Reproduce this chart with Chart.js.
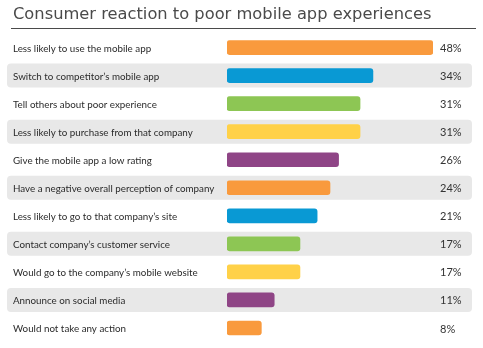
<!DOCTYPE html>
<html>
<head>
<meta charset="utf-8">
<script src="https://cdn.jsdelivr.net/npm/chart.js@4"></script>
<style>
  html, body { margin: 0; padding: 0; background: #fff; }
  #wrap { width: 483px; height: 348px; }
</style>
</head>
<body>
<div id="wrap"><canvas id="chart"></canvas></div>
<script>
const reactions = [
  "Less likely to use the mobile app",
  "Switch to competitor\u2019s mobile app",
  "Tell others about poor experience",
  "Less likely to purchase from that company",
  "Give the mobile app a low rating",
  "Have a negative overall perception of company",
  "Less likely to go to that company\u2019s site",
  "Contact company\u2019s customer service",
  "Would go to the company\u2019s mobile website",
  "Announce on social media",
  "Would not take any action"
];
const shares = [48, 34, 31, 31, 26, 24, 21, 17, 17, 11, 8];
const barColors = ["#f99a3d", "#0999d4", "#8dc654", "#ffd148", "#8f4586"];

// grey bands on every other row + rule under the title + % labels
const rowDecor = {
  id: "rowDecor",
  beforeDraw(chart) {
    const ctx = chart.ctx, y = chart.scales.y;
    ctx.save();
    ctx.fillStyle = "#e8e8e8";
    for (let i = 1; i < reactions.length; i += 2) {
      const cy = y.getPixelForValue(i);
      ctx.beginPath();
      ctx.roundRect(7, cy - 12, 465, 24, 4);
      ctx.fill();
    }
    ctx.strokeStyle = "#4a4a4a";
    ctx.lineWidth = 1;
    ctx.beginPath();
    ctx.moveTo(11, 28.5);
    ctx.lineTo(476, 28.5);
    ctx.stroke();
    ctx.restore();
  },
  afterDatasetsDraw(chart) {
    const ctx = chart.ctx, y = chart.scales.y;
    ctx.save();
    ctx.fillStyle = "#333";
    ctx.font = "11px Lato";
    ctx.textBaseline = "middle";
    shares.forEach((v, i) => {
      ctx.fillText(v + "%", chart.chartArea.right + 7, y.getPixelForValue(i) + 1);
    });
    ctx.restore();
  }
};

new Chart(document.getElementById("chart"), {
  type: "bar",
  data: {
    labels: reactions,
    datasets: [{
      data: shares,
      backgroundColor: shares.map((v, i) => barColors[i % barColors.length]),
      barThickness: 14,
      borderRadius: 3,
      borderSkipped: false
    }]
  },
  options: {
    indexAxis: "y",
    responsive: true,
    maintainAspectRatio: false,
    animation: false,
    layout: { padding: { left: 13, right: 50, top: 2, bottom: 6 } },
    scales: {
      x: { display: false, min: 0, max: 48 },
      y: {
        grid: { display: false },
        border: { display: false },
        afterFit(scale) { scale.width = 214; },
        ticks: {
          autoSkip: false,
          crossAlign: "far",
          padding: 0,
          labelOffset: 1,
          color: "#2b2b2b",
          font: { family: "Lato", size: 9.8 }
        }
      }
    },
    plugins: {
      legend: { display: false },
      tooltip: { enabled: false },
      title: {
        display: true,
        text: "Consumer reaction to poor mobile app experiences",
        align: "start",
        color: "#4a4a4a",
        font: { family: "DejaVu Sans", size: 16.3, weight: "normal", lineHeight: 1.2 },
        padding: { top: 3.2, bottom: 8.8 }
      }
    }
  },
  plugins: [rowDecor]
});
</script>
</body>
</html>
